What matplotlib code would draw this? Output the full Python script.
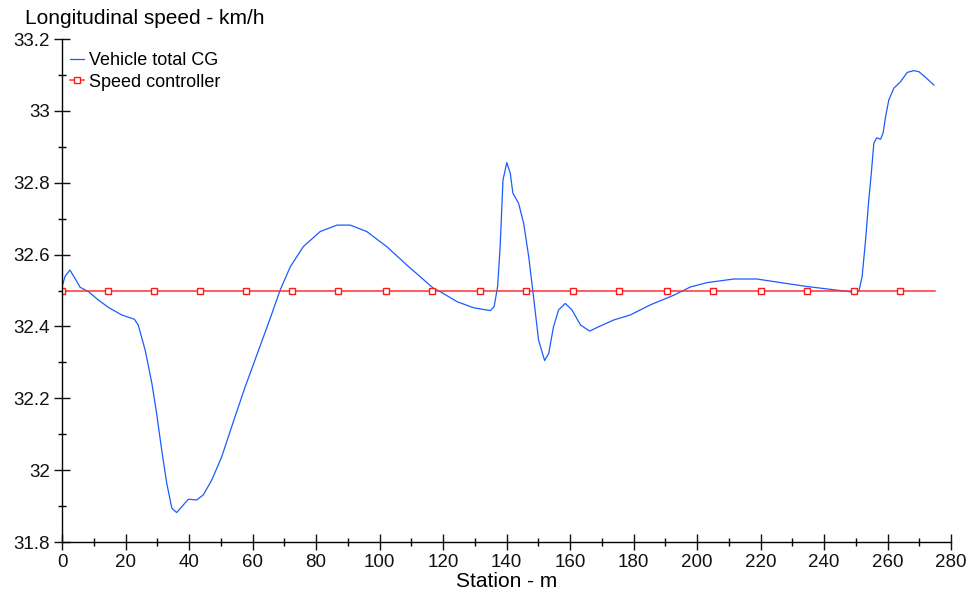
import numpy as np
import matplotlib
matplotlib.use("Agg")
import matplotlib.pyplot as plt
from matplotlib.ticker import MultipleLocator, FormatStrFormatter

plt.rcParams['font.family'] = ['Liberation Sans', 'DejaVu Sans']

# ---------------------------
# data
# ---------------------------
station_cg = [0, 1.0, 2.5, 4.0, 5.7, 8.3, 11.4, 14.6, 18.8, 22.8, 24.0, 26.2, 28.3, 29.8,
              31.4, 33.0, 34.6, 36.1, 37.7, 39.8, 42.4, 44.5, 47.2, 50.3, 54.5, 57.7, 60.8,
              65.6, 68.7, 71.9, 76.0, 81.3, 86.6, 90.8, 96.0, 102.3, 108.6, 117.0, 119.1,
              124.4, 129.6, 134.9, 136.1, 137.2, 138.0, 138.9, 140.1, 141.2, 142.0, 143.8,
              145.4, 147.0, 148.5, 150.1, 152.0, 153.3, 154.8, 156.4, 158.5, 160.6, 163.3,
              166.2, 169.0, 173.8, 179.0, 185.3, 192.7, 198.0, 203.2, 211.6, 218.9, 226.3,
              234.7, 244.1, 249.4, 251.0, 252.0, 253.1, 254.1, 254.9, 255.7, 256.6, 257.8,
              258.6, 259.4, 260.4, 262.0, 264.1, 266.2, 268.3, 269.9, 272.0, 274.6]
speed_cg = [32.51, 32.54, 32.557, 32.535, 32.509, 32.497, 32.474, 32.453, 32.432, 32.42,
            32.404, 32.334, 32.242, 32.158, 32.056, 31.963, 31.894, 31.882, 31.898, 31.919,
            31.917, 31.931, 31.973, 32.037, 32.149, 32.232, 32.307, 32.423, 32.501, 32.566,
            32.622, 32.664, 32.682, 32.682, 32.664, 32.622, 32.571, 32.506, 32.497, 32.469,
            32.452, 32.444, 32.455, 32.511, 32.622, 32.808, 32.856, 32.826, 32.771, 32.743,
            32.687, 32.594, 32.483, 32.362, 32.305, 32.325, 32.399, 32.446, 32.464, 32.446,
            32.404, 32.387, 32.399, 32.418, 32.432, 32.460, 32.487, 32.51, 32.522, 32.532,
            32.532, 32.522, 32.511, 32.501, 32.495, 32.499, 32.538, 32.641, 32.752, 32.826,
            32.910, 32.925, 32.921, 32.938, 32.984, 33.030, 33.063, 33.081, 33.107, 33.112,
            33.109, 33.093, 33.072]

# speed controller target: marker stations + line end
station_ctrl = [0, 14.5, 29, 43.5, 58, 72.5, 87, 102, 116.5, 131.5, 146, 161, 175.5,
                190.5, 205, 220, 234.5, 249.5, 264, 275]
speed_ctrl = [32.5] * len(station_ctrl)

# ---------------------------
# plot
# ---------------------------
fig = plt.figure(figsize=(9.71, 5.94), dpi=100)
ax = fig.add_axes([62/971, 52/594, (951-62)/971, (542-39)/594])

ax.plot(station_cg, speed_cg, color='#1a5cff', lw=0.9, label='Vehicle total CG')
ax.plot(station_ctrl, speed_ctrl, color='#ff3030', lw=1.1, marker='s', ms=4.2,
        mfc='white', mec='#ff1a1a', mew=1.0, markevery=list(range(len(station_ctrl)-1)),
        label='Speed controller')

ax.set_xlim(0, 280)
ax.set_ylim(31.8, 33.2)
ax.xaxis.set_major_locator(MultipleLocator(20))
ax.xaxis.set_minor_locator(MultipleLocator(10))
ax.yaxis.set_major_locator(MultipleLocator(0.2))
ax.yaxis.set_minor_locator(MultipleLocator(0.1))
ax.yaxis.set_major_formatter(FormatStrFormatter('%g'))
ax.xaxis.set_major_formatter(FormatStrFormatter('%g'))

for s in ['top', 'right']:
    ax.spines[s].set_visible(False)
for s in ['left', 'bottom']:
    ax.spines[s].set_linewidth(1.0)
ax.tick_params(which='major', direction='inout', length=11, width=1.0,
               labelsize=13.5, pad=3, colors='#111111')
ax.tick_params(which='minor', direction='inout', length=5.5, width=1.0)

ax.set_xlabel('Station - m', fontsize=15, labelpad=1)
fig.text(25/971, 1 - 18/594, 'Longitudinal speed - km/h', fontsize=15,
         ha='left', va='center')

ax.legend(loc='upper left', bbox_to_anchor=(70/971, 1 - 52/594),
          bbox_transform=fig.transFigure, frameon=False, fontsize=13,
          handlelength=0.75, handletextpad=0.3, labelspacing=0.25,
          borderpad=0, borderaxespad=0)

fig.savefig('out.png', dpi=100)
